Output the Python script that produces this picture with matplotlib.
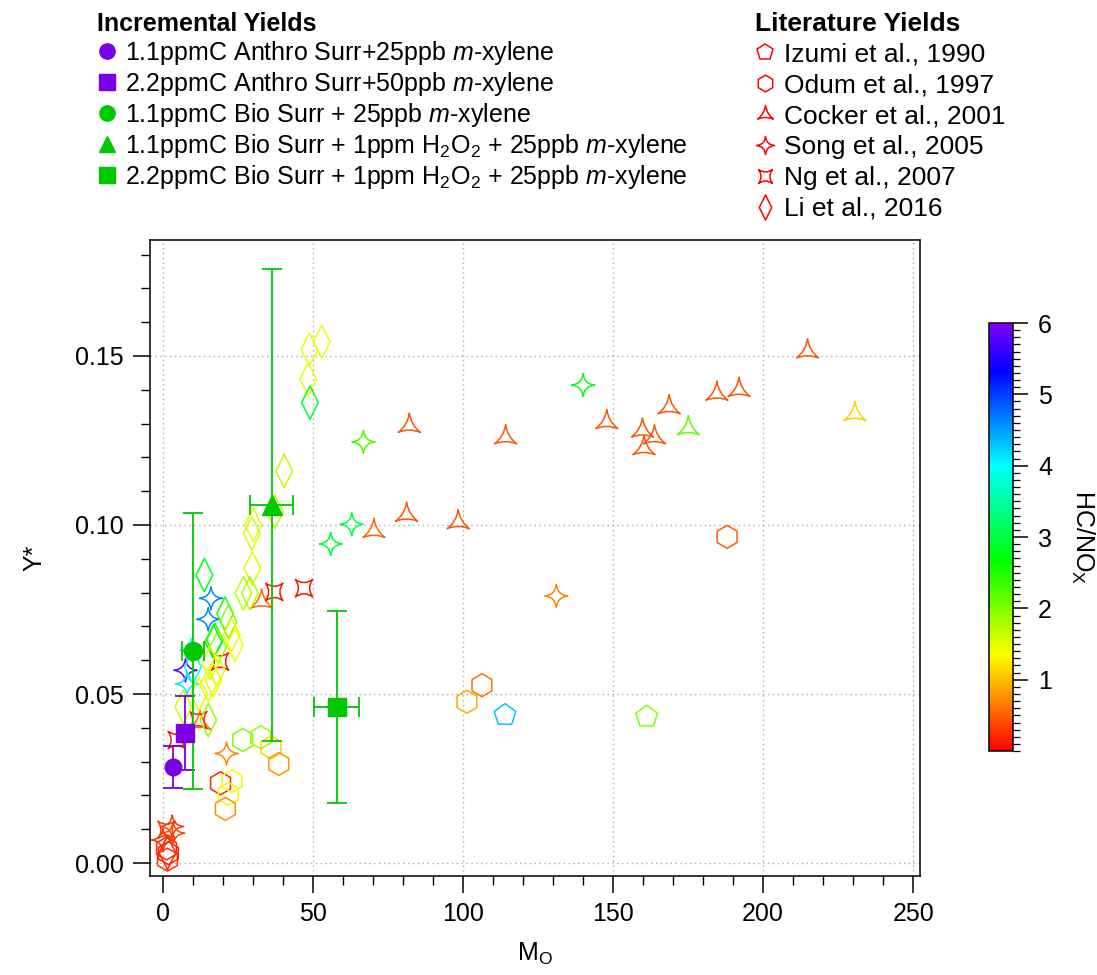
import numpy as np
import matplotlib
matplotlib.use('Agg')
import matplotlib.pyplot as plt
import matplotlib.colors as mcolors
from matplotlib.path import Path
from matplotlib.lines import Line2D
from matplotlib.ticker import MultipleLocator

plt.rcParams['font.family'] = ['Liberation Sans', 'DejaVu Sans']
plt.rcParams['mathtext.fontset'] = 'custom'
plt.rcParams['mathtext.rm'] = 'Liberation Sans'
plt.rcParams['mathtext.it'] = 'Liberation Sans:italic'
plt.rcParams['mathtext.bf'] = 'Liberation Sans:bold'
plt.rcParams['font.size'] = 18

# ---- incremental yields (this work) ----
inc_labels = [
    r'1.1ppmC Anthro Surr+25ppb $\mathit{m}$-xylene',
    r'2.2ppmC Anthro Surr+50ppb $\mathit{m}$-xylene',
    r'1.1ppmC Bio Surr + 25ppb $\mathit{m}$-xylene',
    r'1.1ppmC Bio Surr + 1ppm H$_2$O$_2$ + 25ppb $\mathit{m}$-xylene',
    r'2.2ppmC Bio Surr + 1ppm H$_2$O$_2$ + 25ppb $\mathit{m}$-xylene',
]
inc_x = [3.3, 7.3, 10.0, 36.2, 57.9]
inc_y = [0.0284, 0.0385, 0.0627, 0.1059, 0.0461]
inc_xerr = [0.0, 0.0, 3.7, 7.3, 7.4]
inc_yerr = [0.0062, 0.0109, 0.0408, 0.0699, 0.0284]
inc_colors = ['#7a00e6', '#7a00e6', '#00c800', '#00c800', '#00c800']
inc_markers = ['o', 's', 'o', '^', 's']
inc_sizes = [12, 12.5, 13, 15, 13]

# ---- literature yields: Mo, Y*, HC/NOx ----
izumi_x = [114.0, 161.2]
izumi_y = [0.0438, 0.0433]
izumi_c = [4.3, 2.0]

odum_x = [188.0, 106.3, 101.3, 26.6, 32.6, 36.0, 38.6, 19.2, 23.0, 21.8, 20.8, 1.8, 1.2, 1.5]
odum_y = [0.0965, 0.0526, 0.0477, 0.0364, 0.0372, 0.0342, 0.0293, 0.0236, 0.0242, 0.0204,
          0.0160, 0.0029, 0.0043, 0.0010]
odum_c = [0.5, 0.6, 0.9, 2.0, 1.9, 1.1, 0.75, 0.2, 1.3, 1.3, 0.75, 0.15, 0.2, 0.25]

cocker_x = [214.8, 184.6, 192.0, 168.7, 147.9, 159.8, 163.8, 160.3, 175.1, 230.6, 82.1, 114.2,
            81.2, 98.4, 70.3, 32.9, 12.3]
cocker_y = [0.1513, 0.1388, 0.1399, 0.1348, 0.1304, 0.1279, 0.1259, 0.1227, 0.1286, 0.1328,
            0.1293, 0.1259, 0.1030, 0.1008, 0.0982, 0.0773, 0.0414]
cocker_c = [0.45, 0.45, 0.45, 0.45, 0.45, 0.45, 0.45, 0.45, 2.2, 1.1, 0.45, 0.45, 0.45, 0.45,
            0.55, 0.55, 0.6]

song_x = [140.0, 66.8, 62.9, 55.9, 131.1, 16.0, 15.1, 21.2, 3.1, 3.4, 0.0, 7.5, 8.0, 9.5]
song_y = [0.1414, 0.1246, 0.1002, 0.0944, 0.0790, 0.0783, 0.0721, 0.0324, 0.0108, 0.0088,
          0.0068, 0.0570, 0.0530, 0.0630]
song_c = [2.8, 2.3, 3.0, 2.9, 0.7, 4.6, 4.6, 0.7, 0.35, 0.4, 0.3, 5.8, 4.1, 4.0]

ng_x = [37.1, 47.0, 19.0, 4.6, 1.2, 11.8]
ng_y = [0.0802, 0.0813, 0.0596, 0.0364, 0.0098, 0.0423]
ng_c = [0.1, 0.1, 0.1, 0.1, 0.3, 0.2]

li_x = [52.9, 48.8, 48.4, 49.0, 40.4, 37.3, 30.1, 29.6, 29.8, 26.8, 29.0, 13.8, 20.7, 21.8,
        17.3, 22.9, 24.0, 18.4, 16.8, 15.7, 17.9, 16.8, 15.1, 6.8, 15.1, 12.0, 10.0, 1.5]
li_y = [0.1542, 0.1519, 0.1431, 0.1362, 0.1160, 0.1039, 0.1000, 0.0975, 0.0872, 0.0798, 0.0798,
        0.0852, 0.0738, 0.0714, 0.0660, 0.0675, 0.0645, 0.0640, 0.0655, 0.0592, 0.0571, 0.0541,
        0.0527, 0.0462, 0.0423, 0.0500, 0.0580, 0.0030]
li_c = [1.45, 1.45, 1.45, 2.9, 1.7, 1.7, 1.5, 1.55, 1.5, 1.7, 1.8, 2.8, 2.5, 2.0, 2.7, 1.4, 1.4,
        1.9, 2.6, 1.5, 1.5, 1.45, 1.45, 1.6, 1.9, 1.5, 4.0, 0.2]

lit_labels = ['Izumi et al., 1990', 'Odum et al., 1997', 'Cocker et al., 2001',
              'Song et al., 2005', 'Ng et al., 2007', 'Li et al., 2016']


def concave_star(n, angle0, ctrl):
    ang = np.deg2rad(angle0 + 360.0 * np.arange(n) / n)
    tips = np.c_[np.cos(ang), np.sin(ang)]
    mid = ang + np.pi / n
    ctl = ctrl * np.c_[np.cos(mid), np.sin(mid)]
    verts = [tips[0]]
    codes = [Path.MOVETO]
    for i in range(n):
        verts += [ctl[i], tips[(i + 1) % n]]
        codes += [Path.CURVE3, Path.CURVE3]
    verts.append(tips[0])
    codes.append(Path.CLOSEPOLY)
    return Path(verts, codes)


tri_marker = concave_star(3, 90, 0.15)
star_marker = concave_star(4, 0, 0.12)
ng_marker = concave_star(4, 45, 0.2)
diamond_marker = Path([(0, 1), (0.5, 0), (0, -1), (-0.5, 0), (0, 1)],
                      [Path.MOVETO, Path.LINETO, Path.LINETO, Path.LINETO, Path.CLOSEPOLY])

# rainbow: red (0) -> purple (6)
hues = np.linspace(0, 0.75, 256)
cmap = mcolors.ListedColormap(mcolors.hsv_to_rgb(np.c_[hues, np.ones(256), np.ones(256)]))
norm = mcolors.Normalize(0, 6)

fig = plt.figure(figsize=(10.97, 9.75), dpi=100)
ax = fig.add_axes([0.1367, 0.1015, 0.702, 0.6523])

lit_sets = [
    (izumi_x, izumi_y, izumi_c, 'p', 16.4),
    (odum_x, odum_y, odum_c, 'h', 16.5),
    (cocker_x, cocker_y, cocker_c, tri_marker, 18.3),
    (song_x, song_y, song_c, star_marker, 16.6),
    (ng_x, ng_y, ng_c, ng_marker, 12.5),
    (li_x, li_y, li_c, diamond_marker, 24),
]
for xs, ys, cs, mk, ms in lit_sets:
    ax.scatter(xs, ys, marker=mk, s=ms ** 2, facecolors='none',
               edgecolors=cmap(norm(np.array(cs))), linewidths=1.1, zorder=3)

for i in range(len(inc_x)):
    xe = inc_xerr[i] if inc_xerr[i] > 0 else None
    ax.errorbar(inc_x[i], inc_y[i], xerr=xe, yerr=inc_yerr[i], fmt=inc_markers[i],
                color=inc_colors[i], ms=inc_sizes[i], mec=inc_colors[i], elinewidth=1.3,
                capsize=7, capthick=1.3, zorder=5)

ax.set_xlim(-4.33, 252.3)
ax.set_ylim(-0.00385, 0.1843)
ax.xaxis.set_major_locator(MultipleLocator(50))
ax.xaxis.set_minor_locator(MultipleLocator(10))
ax.yaxis.set_major_locator(MultipleLocator(0.05))
ax.yaxis.set_minor_locator(MultipleLocator(0.01))
ax.yaxis.set_major_formatter(matplotlib.ticker.FormatStrFormatter('%.2f'))
ax.tick_params(which='major', direction='out', length=12, width=1.1, labelsize=18, pad=7)
ax.tick_params(which='minor', direction='out', length=6.5, width=1.0)
ax.grid(True, which='major', linestyle=(0, (1, 2.5)), color='#aaaaaa', linewidth=1.0)
for sp in ax.spines.values():
    sp.set_linewidth(1.1)
ax.set_xlabel(r'M$_\mathrm{O}$', fontsize=18, labelpad=10)
ax.set_ylabel('Y*', fontsize=18, labelpad=20)

# legends
inc_handles = [Line2D([], [], linestyle='none', marker=inc_markers[i], color=inc_colors[i],
                      ms=11) for i in range(len(inc_labels))]
leg1 = fig.legend(inc_handles, inc_labels, loc='upper left', bbox_to_anchor=(0.088, 0.988),
                  frameon=False, handlelength=0.8, handletextpad=0.35, labelspacing=0.12,
                  borderpad=0, borderaxespad=0, fontsize=18, title='Incremental Yields',
                  title_fontproperties={'weight': 'bold', 'size': 18}, alignment='left')

lit_handles = [Line2D([], [], linestyle='none', marker=m, ms=s, mfc='none', mec='red', mew=1.1)
               for m, s in [('p', 12), ('h', 12), (tri_marker, 13), (star_marker, 13),
                            (ng_marker, 10), (diamond_marker, 18)]]
leg2 = fig.legend(lit_handles, lit_labels, loc='upper left', bbox_to_anchor=(0.688, 0.988),
                  frameon=False, handlelength=0.75, handletextpad=0.35, labelspacing=0.26,
                  borderpad=0, borderaxespad=0, fontsize=19, title='Literature Yields',
                  title_fontproperties={'weight': 'bold', 'size': 19}, alignment='left')

# colorbar
cax = fig.add_axes([0.9016, 0.2297, 0.0219, 0.439])
sm = matplotlib.cm.ScalarMappable(norm=norm, cmap=cmap)
cb = fig.colorbar(sm, cax=cax)
cb.set_ticks([1, 2, 3, 4, 5, 6])
cax.yaxis.set_minor_locator(MultipleLocator(0.1))
cax.tick_params(which='major', length=11, width=1.1, labelsize=18, pad=7)
cax.tick_params(which='minor', length=5, width=0.9)
cb.outline.set_linewidth(1.1)
cb.set_label(r'HC/NO$_\mathrm{X}$', rotation=270, fontsize=18, labelpad=32)

fig.savefig('out.png', dpi=100)
